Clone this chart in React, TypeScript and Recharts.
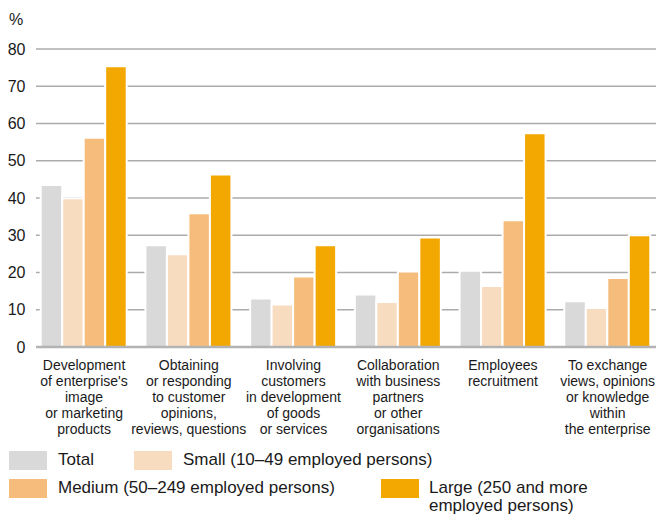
import React from 'react';
import { BarChart, Bar, XAxis, YAxis, CartesianGrid, Legend, Label } from 'recharts';

const categories = [
  "Development\nof enterprise's\nimage\nor marketing\nproducts",
  'Obtaining\nor responding\nto customer\nopinions,\nreviews, questions',
  'Involving\ncustomers\nin development\nof goods\nor services',
  'Collaboration\nwith business\npartners\nor other\norganisations',
  'Employees\nrecruitment',
  'To exchange\nviews, opinions\nor knowledge\nwithin\nthe enterprise',
];

const totalValues = [43.5, 27.3, 13.0, 14.1, 20.5, 12.3];
const smallValues = [39.9, 24.9, 11.4, 12.1, 16.4, 10.5];
const mediumValues = [56.2, 35.9, 18.9, 20.3, 34.0, 18.5];
const largeValues = [75.4, 46.3, 27.3, 29.4, 57.4, 30.0];

const yTicks = [0, 10, 20, 30, 40, 50, 60, 70, 80];

const seriesKeys = ['total', 'small', 'medium', 'large'];
const seriesNames = [
  'Total',
  'Small (10\u201349 employed persons)',
  'Medium (50\u2013249 employed persons)',
  'Large (250 and more\nemployed persons)',
];
const seriesColors = ['#d9d9d9', '#f8dcc0', '#f5bc7b', '#f2a800'];

const data = categories.map((c, i) => ({
  category: c,
  total: totalValues[i],
  small: smallValues[i],
  medium: mediumValues[i],
  large: largeValues[i],
}));

const FONT = '"Liberation Sans", Arial, sans-serif';
const TEXT = '#1a1a1a';

const CatTick = (props: any) => {
  const { x, y, payload } = props;
  const lines = String(payload.value).split('\n');
  return (
    <text x={x} y={y} textAnchor="middle" fontSize={14} fontFamily={FONT} fill={TEXT}>
      {lines.map((l, i) => (
        <tspan key={i} x={x} dy={i === 0 ? 23 : 16}>
          {l}
        </tspan>
      ))}
    </text>
  );
};

const PercentLabel = (props: any) => {
  const vb = props.viewBox || { x: 0, y: 49 };
  return (
    <text x={16} y={vb.y - 24.5} textAnchor="middle" fontSize={16} fontFamily={FONT} fill={TEXT}>
      %
    </text>
  );
};

// legend layout: [swatchLeft, rowTop, textLeft]
const legendLayout = [
  [9, 451, 58],
  [134, 451, 183],
  [9, 479, 58],
  [381, 479, 429],
];

const renderLegend = () => (
  <div style={{ position: 'relative', width: 0, height: 0 }}>
    {seriesNames.map((name, i) => {
      const [sx, ty, tx] = legendLayout[i];
      return (
        <React.Fragment key={i}>
          <div
            style={{
              position: 'absolute',
              left: sx,
              top: ty,
              width: 38,
              height: 18.5,
              background: seriesColors[i],
            }}
          />
          <div
            style={{
              position: 'absolute',
              left: tx,
              top: ty - 0.5,
              fontFamily: FONT,
              fontSize: 17,
              lineHeight: '18.5px',
              color: TEXT,
              whiteSpace: 'pre',
            }}
          >
            {name}
          </div>
        </React.Fragment>
      );
    })}
  </div>
);

export default function App() {
  return (
    <div
      style={{
        position: 'fixed',
        left: 0,
        top: 0,
        width: 656,
        height: 515,
        overflow: 'hidden',
        background: '#fff',
      }}
    >
      <BarChart
        width={664}
        height={515}
        data={data}
        margin={{ top: 49, right: 8, left: 0, bottom: 0 }}
        barGap={0}
        barSize={21.5}
      >
        <CartesianGrid vertical={false} stroke="#ababab" strokeWidth={1.3} />
        <XAxis
          dataKey="category"
          height={168}
          interval={0}
          tickLine={false}
          tickSize={0}
          tickMargin={0}
          axisLine={{ stroke: '#b3b3b3', strokeWidth: 2.4 }}
          tick={<CatTick />}
          padding={{ left: -4.3, right: -4 }}
        />
        <YAxis
          width={36}
          domain={[0, 80]}
          ticks={yTicks}
          interval={0}
          axisLine={false}
          tickLine={false}
          tickSize={0}
          tickMargin={10.5}
          tick={{ fontSize: 16, fill: TEXT, fontFamily: FONT }}
        >
          <Label content={<PercentLabel />} />
        </YAxis>
        <Legend
          layout="horizontal"
          verticalAlign="middle"
          align="center"
          content={renderLegend}
          wrapperStyle={{ left: 0, top: 0, width: 0, height: 0 }}
        />
        {seriesKeys.map((k, i) => (
          <Bar
            key={k}
            dataKey={k}
            name={seriesNames[i]}
            fill={seriesColors[i]}
            stroke="#ffffff"
            strokeWidth={2}
            isAnimationActive={false}
          />
        ))}
      </BarChart>
    </div>
  );
}
